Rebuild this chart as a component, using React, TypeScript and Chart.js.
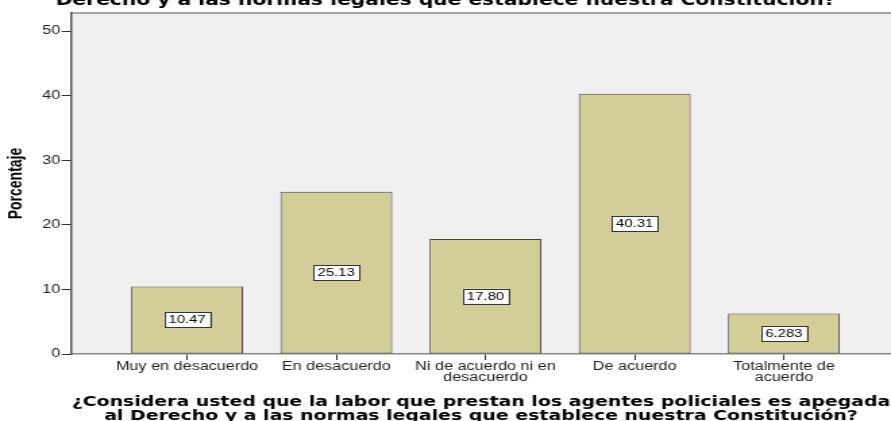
import React, { useEffect, useRef } from "react";
import { Chart, registerables } from "chart.js";

Chart.register(...registerables);

// ---- data ----
const categories: string[][] = [
  ["Muy en desacuerdo"],
  ["En desacuerdo"],
  ["Ni de acuerdo ni en", "desacuerdo"],
  ["De acuerdo"],
  ["Totalmente de", "acuerdo"],
];
const percentages = [10.47, 25.13, 17.8, 40.31, 6.283];
const valueLabels = ["10.47", "25.13", "17.80", "40.31", "6.283"];
const yTickValues = [0, 10, 20, 30, 40, 50];
const chartTitle = "Derecho y a las normas legales que establece nuestra Constitución?";
const xAxisTitle = [
  "¿Considera usted que la labor que prestan los agentes policiales es apegada",
  "al Derecho y a las normas legales que establece nuestra Constitución?",
];
const yAxisTitle = "Porcentaje";

// ---- layout ----
const STRETCH = 1.35; // the reference is horizontally stretched
const PAGE_W = 891;
const PAGE_H = 421;
const TOP_CUT = 12;
const BOTTOM_CUT = 8;
const W = Math.round(PAGE_W / STRETCH);
const H = PAGE_H + TOP_CUT + BOTTOM_CUT;

const backgroundPlugin = {
  id: "plotBackground",
  beforeDraw(chart: any) {
    const { ctx, chartArea } = chart;
    ctx.save();
    ctx.fillStyle = "#f0f0f0";
    ctx.fillRect(chartArea.left, chartArea.top, chartArea.right - chartArea.left, chartArea.bottom - chartArea.top);
    ctx.strokeStyle = "#8a8a8a";
    ctx.lineWidth = 1.5;
    ctx.beginPath();
    ctx.moveTo(chartArea.left, chartArea.top);
    ctx.lineTo(chartArea.right, chartArea.top);
    ctx.stroke();
    ctx.restore();
  },
};

const valueLabelPlugin = {
  id: "valueLabels",
  afterDatasetsDraw(chart: any) {
    const { ctx } = chart;
    const meta = chart.getDatasetMeta(0);
    ctx.save();
    ctx.font = "11px 'Liberation Sans', Arial, sans-serif";
    ctx.textAlign = "center";
    ctx.textBaseline = "middle";
    meta.data.forEach((bar: any, i: number) => {
      const { x, y, base } = bar.getProps(["x", "y", "base"], true);
      const cy = (y + base) / 2;
      const text = valueLabels[i];
      const tw = ctx.measureText(text).width;
      const bw = tw + 6;
      const bh = 15;
      ctx.fillStyle = "#ffffff";
      ctx.fillRect(x - bw / 2, cy - bh / 2, bw, bh);
      ctx.strokeStyle = "#333333";
      ctx.lineWidth = 1;
      ctx.strokeRect(Math.round(x - bw / 2) + 0.5, Math.round(cy - bh / 2) + 0.5, Math.round(bw), bh);
      ctx.fillStyle = "#000000";
      ctx.fillText(text, x, cy + 0.5);
    });
    ctx.restore();
  },
};

export default function App() {
  const canvasRef = useRef<HTMLCanvasElement | null>(null);

  useEffect(() => {
    if (!canvasRef.current) return;
    const chart = new Chart(canvasRef.current, {
      type: "bar",
      data: {
        datasets: [
          {
            label: yAxisTitle,
            data: percentages.map((v, i) => ({ x: i, y: v })),
            backgroundColor: "#d3ce97",
            borderColor: "#444444",
            borderWidth: 1,
            borderSkipped: false,
            barPercentage: 0.75,
            categoryPercentage: 1,
          },
        ],
      },
      options: {
        responsive: false,
        animation: false,
        layout: { padding: 0 },
        plugins: {
          legend: { display: false },
          tooltip: { enabled: false },
          title: {
            display: true,
            text: chartTitle,
            color: "#000",
            font: { family: "'DejaVu Sans', sans-serif", weight: "bold", size: 15, lineHeight: 1.2 },
            padding: { top: 4, bottom: 3 },
          },
        },
        scales: {
          x: {
            type: "linear",
            offset: false,
            min: -0.778,
            max: 4.718,
            afterBuildTicks: (scale: any) => {
              scale.ticks = categories.map((_, i) => ({ value: i }));
            },
            afterFit: (scale: any) => {
              scale.height = 75;
            },
            ticks: {
              autoSkip: false,
              maxRotation: 0,
              includeBounds: false,
              padding: 2,
              color: "#222",
              font: { family: "'Liberation Sans', Arial, sans-serif", size: 12, lineHeight: 0.85 },
              callback: (v: any) => categories[Math.round(Number(v))] ?? "",
            },
            grid: {
              display: true,
              offset: false,
              drawOnChartArea: false,
              drawTicks: true,
              tickLength: 6,
              color: "#333",
            },
            border: { display: true, color: "#888", width: 1.5 },
            title: {
              display: true,
              text: xAxisTitle,
              color: "#000",
              font: { family: "'DejaVu Sans', sans-serif", weight: "bold", size: 14, lineHeight: 1.0 },
              padding: { top: 0, bottom: 6 },
            },
          },
          y: {
            min: 0,
            max: 52.8,
            afterBuildTicks: (scale: any) => {
              scale.ticks = yTickValues.map((v) => ({ value: v }));
            },
            afterFit: (scale: any) => {
              scale.width = 71 / STRETCH;
            },
            ticks: {
              includeBounds: false,
              padding: 1,
              color: "#222",
              font: { family: "'Liberation Sans', Arial, sans-serif", size: 12 },
            },
            grid: {
              display: true,
              drawOnChartArea: false,
              drawTicks: true,
              tickLength: 7,
              color: "#333",
            },
            border: { display: true, color: "#555", width: 1.5 },
            title: {
              display: true,
              text: yAxisTitle,
              color: "#000",
              font: { family: "'Liberation Sans', Arial, sans-serif", weight: "bold", size: 14 },
              padding: { top: 4, bottom: 0 },
            },
          },
        },
      },
      plugins: [backgroundPlugin, valueLabelPlugin],
    } as any);
    return () => chart.destroy();
  }, []);

  return (
    <div
      style={{
        position: "absolute",
        left: 0,
        top: 0,
        width: PAGE_W,
        height: PAGE_H,
        overflow: "hidden",
        background: "#fff",
      }}
    >
      <div
        style={{
          width: W,
          height: H,
          transform: `translateY(-${TOP_CUT}px) scaleX(${STRETCH})`,
          transformOrigin: "0 0",
        }}
      >
        <canvas ref={canvasRef} width={W} height={H} style={{ display: "block" }} />
      </div>
    </div>
  );
}
